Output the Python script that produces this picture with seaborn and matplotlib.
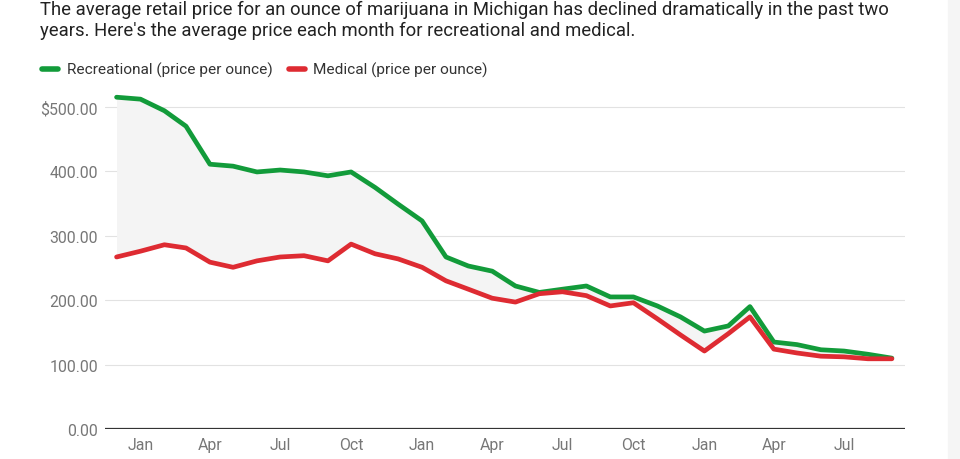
import numpy as np
import pandas as pd
import matplotlib
matplotlib.use("Agg")
import matplotlib.pyplot as plt
import matplotlib.dates as mdates
from matplotlib.patches import Rectangle
from matplotlib.lines import Line2D
import seaborn as sns

sns.set_theme(style="white")
plt.rcParams['font.family'] = ['Roboto', 'DejaVu Sans']

# monthly average price per ounce, Dec 2018 - Sep 2021
months = pd.date_range("2018-12-01", "2021-09-01", freq="MS")
recreational = [515, 512, 494, 470, 411, 408, 399, 402, 399, 393, 399, 375,
                349, 323, 267, 253, 245, 222, 212, 217, 222, 205, 205, 191,
                174, 152, 160, 190, 135, 131, 123, 121, 116, 110]
medical = [267, 276, 286, 281, 259, 251, 261, 267, 269, 261, 287, 272,
           264, 251, 230, 217, 203, 197, 210, 213, 207, 191, 196, 171,
           146, 121, 148, 174, 124, 118, 113, 112, 109, 109]
series_names = ["Recreational (price per ounce)", "Medical (price per ounce)"]
colors = ["#129b3a", "#de2b32"]
title = ("The average retail price for an ounce of marijuana in Michigan has declined dramatically in the past two\n"
         "years. Here's the average price each month for recreational and medical.")

df = pd.concat([
    pd.DataFrame({"month": months, "price": recreational, "series": series_names[0]}),
    pd.DataFrame({"month": months, "price": medical, "series": series_names[1]}),
])

W, H = 960, 460
fig = plt.figure(figsize=(9.6, 4.6), dpi=100)
fig.patches.append(Rectangle((948 / W, 0), 12 / W, 1, transform=fig.transFigure,
                             color="#f5f5f5", zorder=0))
ax = fig.add_axes([105 / W, 30 / H, 800 / W, 335 / H])

ax.fill_between(months, recreational, medical, color="#f4f4f4", lw=0, zorder=1)
sns.lineplot(data=df, x="month", y="price", hue="series", palette=colors,
             linewidth=3.4, ax=ax, legend=False, zorder=3)
for ln in ax.lines:
    ln.set_solid_capstyle("round")
    ln.set_solid_joinstyle("round")

ax.set_ylim(0, 520)
ax.set_xlim(pd.Timestamp("2018-11-16"), pd.Timestamp("2021-09-18"))
ax.set_yticks([0, 100, 200, 300, 400, 500])
ax.set_yticklabels(["0.00", "100.00", "200.00", "300.00", "400.00", "$500.00"])
ax.xaxis.set_major_locator(mdates.MonthLocator(bymonth=[1, 4, 7, 10]))
ax.xaxis.set_major_formatter(mdates.DateFormatter("%b"))
ax.tick_params(axis="both", length=0, labelsize=11.4, labelcolor="#777777")
ax.tick_params(axis="y", pad=5)
ax.tick_params(axis="x", pad=6)
ax.grid(axis="y", color="#e2e2e2", lw=0.8)
ax.set_axisbelow(True)
ax.axhline(0, color="#333333", lw=1.6, zorder=4)
ax.set_xlabel("")
ax.set_ylabel("")
sns.despine(ax=ax, left=True, bottom=True, top=True, right=True)

fig.text(40 / W, 1 - 20.5 / H, title, fontsize=13.3, color="#222222",
         ha="left", va="center", linespacing=1.17)

# legend
legend_x = [(40, 67), (287, 313)]
for (hx, tx), c, name in zip(legend_x, colors, series_names):
    fig.add_artist(Line2D([(hx + 2) / W, (hx + 18) / W], [1 - 70 / H, 1 - 70 / H],
                          transform=fig.transFigure, color=c, lw=4,
                          solid_capstyle="round"))
    fig.text(tx / W, 1 - 70 / H, name, fontsize=11.1, color="#333333",
             ha="left", va="center")

fig.savefig("out.png", dpi=100)
